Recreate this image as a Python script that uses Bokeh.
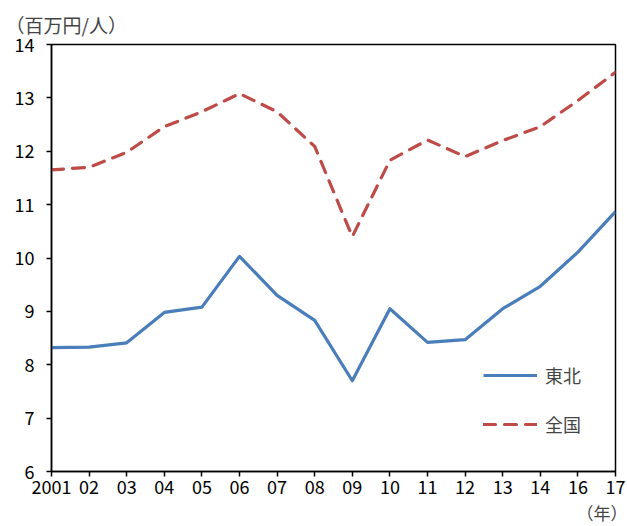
from bokeh.plotting import figure
from bokeh.models import FixedTicker, Legend, LegendItem, Title, Range1d
from bokeh.embed import file_html
from bokeh.resources import INLINE

# Per-capita income (million yen / person)
years = ["2001", "02", "03", "04", "05", "06", "07", "08", "09", "10",
         "11", "12", "13", "14", "16", "17"]
tohoku = [8.32, 8.33, 8.41, 8.98, 9.08, 10.03, 9.30, 8.83, 7.70, 9.05,
          8.42, 8.47, 9.05, 9.47, 10.11, 10.87]
zenkoku = [11.65, 11.70, 11.98, 12.46, 12.74, 13.08, 12.74, 12.09, 10.40, 11.83,
           12.21, 11.90, 12.20, 12.46, 12.95, 13.48]
y_ticks = [6, 7, 8, 9, 10, 11, 12, 13, 14]

FONT = "Noto Sans CJK JP"
BLUE = "#4A7EBB"
RED = "#BE4B48"

xs = list(range(len(years)))

p = figure(width=627, height=526, output_backend="svg", toolbar_location=None,
           x_range=Range1d(0, len(years) - 1), y_range=Range1d(6, 14),
           min_border_left=51, min_border_right=12, min_border_top=44,
           min_border_bottom=55)
p.background_fill_color = "white"
p.border_fill_color = "white"
p.outline_line_color = "black"
p.outline_line_width = 1.5
p.xgrid.visible = False
p.ygrid.visible = False

for ax in (p.xaxis[0], p.yaxis[0]):
    ax.axis_line_color = "black"
    ax.axis_line_width = 1.5
    ax.major_tick_line_color = "black"
    ax.major_tick_line_width = 1.5
    ax.major_tick_in = 0
    ax.major_tick_out = 5
    ax.minor_tick_line_color = None
    ax.major_label_text_font = FONT
    ax.major_label_text_font_size = "18px"
    ax.major_label_text_color = "black"

p.xaxis.ticker = FixedTicker(ticks=xs)
p.xaxis.major_label_overrides = {i: y for i, y in enumerate(years)}
p.xaxis.major_label_standoff = 3
p.yaxis.ticker = FixedTicker(ticks=y_ticks)
p.yaxis.major_label_standoff = 12

r_tohoku = p.line(xs, tohoku, line_color=BLUE, line_width=3.2, line_join="round")
r_zenkoku = p.line(xs, zenkoku, line_color=RED, line_width=3.2,
                   line_dash="12 9", line_cap="round", line_join="round")

legend = Legend(items=[LegendItem(label="東北", renderers=[r_tohoku]),
                       LegendItem(label="全国", renderers=[r_zenkoku])],
                location=(432, 34), orientation="vertical",
                glyph_width=54, glyph_height=20, label_height=20,
                spacing=23, padding=0, margin=0, label_standoff=8,
                label_text_font=FONT, label_text_font_size="18px",
                border_line_alpha=0, background_fill_alpha=0)
p.add_layout(legend)

# Unit captions: value unit above the y axis, year marker under the x axis end
unit_title = Title(text="（百万円/人）", align="left", offset=-46,
                   text_font=FONT, text_font_size="19px",
                   text_font_style="normal", standoff=14)
p.add_layout(unit_title, "above")
year_title = Title(text="（年）", align="right", offset=-12,
                   text_font=FONT, text_font_size="17px",
                   text_font_style="normal", standoff=3)
p.add_layout(year_title, "below")

open("out.html", "w").write(file_html(p, INLINE))
